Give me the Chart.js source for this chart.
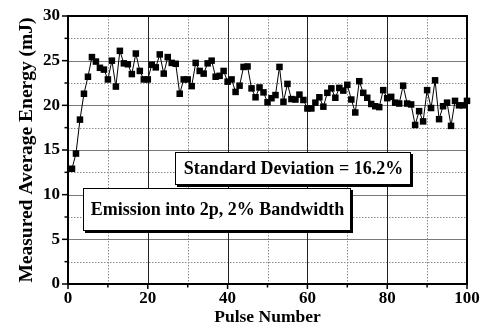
<!DOCTYPE html>
<html>
<head>
<meta charset="utf-8">
<script src="https://cdn.jsdelivr.net/npm/chart.js@4"></script>
<style>
html,body{margin:0;padding:0;background:#fff;}
#wrap{width:481px;height:335px;position:relative;}
</style>
</head>
<body>
<div id="wrap"><canvas id="c" width="481" height="335"></canvas></div>
<script>
const pulses = [1,2,3,4,5,6,7,8,9,10,11,12,13,14,15,16,17,18,19,20,
21,22,23,24,25,26,27,28,29,30,31,32,33,34,35,36,37,38,39,40,
41,42,43,44,45,46,47,48,49,50,51,52,53,54,55,56,57,58,59,60,
61,62,63,64,65,66,67,68,69,70,71,72,73,74,75,76,77,78,79,80,
81,82,83,84,85,86,87,88,89,90,91,92,93,94,95,96,97,98,99,100];
const energy = [12.9,14.6,18.4,21.3,23.2,25.4,24.9,24.2,24.0,22.9,
25.0,22.1,26.1,24.7,24.6,23.5,25.8,23.85,22.9,22.9,
24.55,24.25,25.7,23.55,25.4,24.75,24.65,21.3,22.9,22.9,
22.15,24.75,23.85,23.55,24.7,25.0,23.2,23.3,23.85,22.65,
22.9,21.5,22.2,24.3,24.35,21.9,20.9,22.0,21.45,20.35,
20.8,21.15,24.3,20.4,22.4,20.7,20.65,21.2,20.6,19.65,
19.65,20.3,20.9,19.85,21.4,21.9,20.85,21.95,21.65,22.3,
20.65,19.2,22.7,21.4,20.85,20.15,19.9,19.8,21.7,20.8,
20.95,20.3,20.2,22.2,20.2,20.1,17.8,19.35,18.2,21.7,
19.7,22.8,18.45,19.9,20.3,17.7,20.5,20.0,20.0,20.5];
const xTickLabels = [0,20,40,60,80,100];
const yTickLabels = [0,5,10,15,20,25,30];
const xGridMajor = [20,40,60,80];
const xGridMinor = [10,30,50,70,90];
const yGridMajor = [5,10,15,20,25];
const yGridMinor = [2.5,7.5,12.5,17.5,22.5,27.5];
const xTickMarks = [0,10,20,30,40,50,60,70,80,90,100];
const yTickMarks = [0,2.5,5,7.5,10,12.5,15,17.5,20,22.5,25,27.5,30];
const noteStd = "Standard Deviation = 16.2%";
const noteEmission = "Emission into 2p, 2% Bandwidth";

const FONT = "'Liberation Serif', 'Times New Roman', serif";

const decor = {
  id: 'decor',
  beforeDatasetsDraw(chart) {
    const {ctx, chartArea: a, scales: {x, y}} = chart;
    ctx.save();
    // dotted minor grid
    ctx.setLineDash([1.5, 1.5]);
    ctx.strokeStyle = '#8a8a8a';
    ctx.lineWidth = 1;
    yGridMinor.forEach(v => {
      const py = Math.round(y.getPixelForValue(v)) + 0.5;
      ctx.beginPath(); ctx.moveTo(a.left, py); ctx.lineTo(a.right, py); ctx.stroke();
    });
    xGridMinor.forEach(v => {
      const px = Math.round(x.getPixelForValue(v)) + 0.5;
      ctx.beginPath(); ctx.moveTo(px, a.top); ctx.lineTo(px, a.bottom); ctx.stroke();
    });
    ctx.setLineDash([]);
    // solid major grid
    ctx.strokeStyle = '#7a7a7a';
    yGridMajor.forEach(v => {
      const py = Math.round(y.getPixelForValue(v)) + 0.5;
      ctx.beginPath(); ctx.moveTo(a.left, py); ctx.lineTo(a.right, py); ctx.stroke();
    });
    ctx.strokeStyle = '#222';
    xGridMajor.forEach(v => {
      const px = Math.round(x.getPixelForValue(v)) + 0.5;
      ctx.beginPath(); ctx.moveTo(px, a.top); ctx.lineTo(px, a.bottom); ctx.stroke();
    });
    // tick marks
    ctx.strokeStyle = '#000';
    ctx.lineWidth = 1.5;
    yTickMarks.forEach(v => {
      const py = y.getPixelForValue(v);
      const len = (v % 5 === 0) ? 6 : 3.5;
      ctx.beginPath(); ctx.moveTo(a.left - len, py); ctx.lineTo(a.left, py); ctx.stroke();
    });
    xTickMarks.forEach(v => {
      const px = x.getPixelForValue(v);
      const len = (v % 20 === 0) ? 5 : 3.5;
      ctx.beginPath(); ctx.moveTo(px, a.bottom); ctx.lineTo(px, a.bottom + len); ctx.stroke();
    });
    ctx.restore();
  },
  afterDatasetsDraw(chart) {
    const {ctx, chartArea: a} = chart;
    ctx.save();
    function box(x0, y0, x1, y1, text, cx, cy) {
      ctx.fillStyle = '#000';
      ctx.fillRect(x0 + 2, y0 + 2, x1 - x0, y1 - y0);
      ctx.fillStyle = '#fff';
      ctx.fillRect(x0, y0, x1 - x0, y1 - y0);
      ctx.strokeStyle = '#000';
      ctx.lineWidth = 1;
      ctx.strokeRect(x0 + 0.5, y0 + 0.5, x1 - x0 - 1, y1 - y0 - 1);
      ctx.fillStyle = '#000';
      ctx.font = "bold 18px " + FONT;
      ctx.textAlign = 'center';
      ctx.textBaseline = 'middle';
      ctx.fillText(text, cx, cy);
    }
    box(175, 152, 411, 185, noteStd, 293.5, 169);
    box(83, 188, 351, 231, noteEmission, 217.5, 210);
    // frame
    ctx.strokeStyle = '#000';
    ctx.lineWidth = 2;
    ctx.strokeRect(a.left, a.top, a.right - a.left, a.bottom - a.top);
    ctx.restore();
  }
};

new Chart(document.getElementById('c'), {
  type: 'line',
  data: {
    datasets: [{
      data: pulses.map((p, i) => ({x: p, y: energy[i]})),
      borderColor: '#000',
      borderWidth: 1,
      backgroundColor: '#000',
      pointStyle: 'rect',
      pointRadius: 4.6,
      pointBorderWidth: 0,
      pointBackgroundColor: '#000',
      tension: 0,
      clip: false
    }]
  },
  options: {
    responsive: false,
    animation: false,
    devicePixelRatio: 1,
    layout: {padding: {top: 16, right: 14, left: 0, bottom: 0}},
    plugins: {legend: {display: false}, tooltip: {enabled: false}},
    scales: {
      x: {
        type: 'linear', min: 0, max: 100,
        afterFit(s) { s.height = 51; },
        border: {display: false},
        grid: {display: true, drawOnChartArea: false, tickLength: 4, tickColor: 'rgba(0,0,0,0)'},
        ticks: {
          stepSize: 20, padding: 0, color: '#000', maxRotation: 0,
          font: {family: FONT, size: 17, weight: 'bold'},
          callback: (v) => xTickLabels.includes(v) ? String(v) : ''
        },
        title: {display: true, text: 'Pulse Number', color: '#000',
          font: {family: FONT, size: 17.5, weight: 'bold'}, padding: {top: 7, bottom: 7}}
      },
      y: {
        type: 'linear', min: 0, max: 30,
        afterFit(s) { s.width = 68; },
        border: {display: false},
        grid: {display: true, drawOnChartArea: false, tickLength: 6, tickColor: 'rgba(0,0,0,0)'},
        ticks: {
          stepSize: 5, padding: 2, color: '#000',
          font: {family: FONT, size: 17, weight: 'bold'},
          callback: (v) => yTickLabels.includes(v) ? String(v) : ''
        },
        title: {display: true, text: 'Measured Average Energy (mJ)', color: '#000',
          font: {family: FONT, size: 19.5, weight: 'bold'}, padding: {top: 15, bottom: 15}}
      }
    }
  },
  plugins: [decor]
});
</script>
</body>
</html>
